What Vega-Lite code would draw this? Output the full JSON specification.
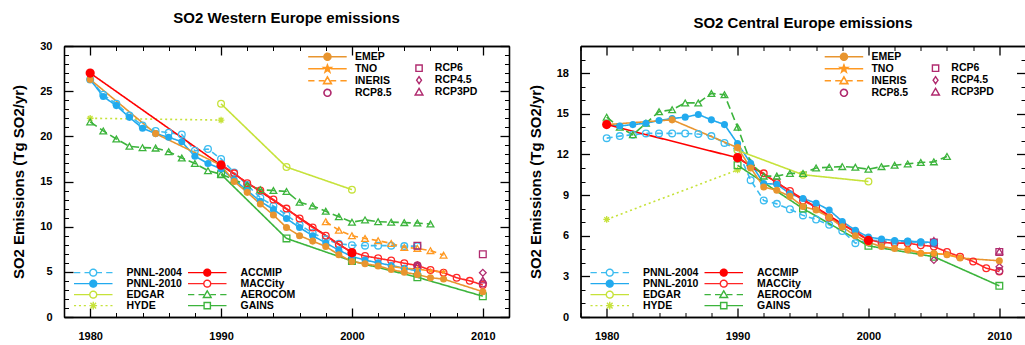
{
"$schema": "https://vega.github.io/schema/vega-lite/v6.json",
"padding": {"left": 11, "top": 11, "right": 0, "bottom": 5},
"datasets": {
"W": [
{"source":"PNNL-2004","year":1980,"value":26.3},{"source":"PNNL-2004","year":1981,"value":24.6},{"source":"PNNL-2004","year":1982,"value":23.6},{"source":"PNNL-2004","year":1983,"value":22.3},{"source":"PNNL-2004","year":1984,"value":21.2},{"source":"PNNL-2004","year":1985,"value":20.6},{"source":"PNNL-2004","year":1986,"value":20.4},{"source":"PNNL-2004","year":1987,"value":20.2},{"source":"PNNL-2004","year":1988,"value":18.4},{"source":"PNNL-2004","year":1989,"value":18.6},{"source":"PNNL-2004","year":1990,"value":17.5},{"source":"PNNL-2004","year":1991,"value":16.0},{"source":"PNNL-2004","year":1992,"value":14.6},{"source":"PNNL-2004","year":1993,"value":13.2},{"source":"PNNL-2004","year":1994,"value":12.3},{"source":"PNNL-2004","year":1995,"value":11.3},{"source":"PNNL-2004","year":1996,"value":10.2},{"source":"PNNL-2004","year":1997,"value":9.3},{"source":"PNNL-2004","year":1998,"value":8.6},{"source":"PNNL-2004","year":1999,"value":8.1},{"source":"PNNL-2004","year":2000,"value":7.95},{"source":"PNNL-2004","year":2001,"value":7.9},{"source":"PNNL-2004","year":2002,"value":7.9},{"source":"PNNL-2004","year":2003,"value":7.9},{"source":"PNNL-2004","year":2004,"value":7.85},{"source":"PNNL-2004","year":2005,"value":7.85},
{"source":"PNNL-2010","year":1980,"value":26.3},{"source":"PNNL-2010","year":1981,"value":24.4},{"source":"PNNL-2010","year":1982,"value":23.4},{"source":"PNNL-2010","year":1983,"value":22.1},{"source":"PNNL-2010","year":1984,"value":20.9},{"source":"PNNL-2010","year":1985,"value":20.3},{"source":"PNNL-2010","year":1986,"value":19.9},{"source":"PNNL-2010","year":1987,"value":19.4},{"source":"PNNL-2010","year":1988,"value":17.8},{"source":"PNNL-2010","year":1989,"value":17.0},{"source":"PNNL-2010","year":1990,"value":16.4},{"source":"PNNL-2010","year":1991,"value":15.2},{"source":"PNNL-2010","year":1992,"value":14.0},{"source":"PNNL-2010","year":1993,"value":12.8},{"source":"PNNL-2010","year":1994,"value":11.9},{"source":"PNNL-2010","year":1995,"value":10.9},{"source":"PNNL-2010","year":1996,"value":9.9},{"source":"PNNL-2010","year":1997,"value":9.0},{"source":"PNNL-2010","year":1998,"value":8.2},{"source":"PNNL-2010","year":1999,"value":7.4},{"source":"PNNL-2010","year":2000,"value":6.7},{"source":"PNNL-2010","year":2001,"value":6.3},{"source":"PNNL-2010","year":2002,"value":6.0},{"source":"PNNL-2010","year":2003,"value":5.7},{"source":"PNNL-2010","year":2004,"value":5.4},{"source":"PNNL-2010","year":2005,"value":5.1},
{"source":"EDGAR","year":1990,"value":23.6},{"source":"EDGAR","year":1995,"value":16.6},{"source":"EDGAR","year":2000,"value":14.1},
{"source":"HYDE","year":1980,"value":22.0},{"source":"HYDE","year":1990,"value":21.8},
{"source":"ACCMIP","year":1980,"value":27.0},{"source":"ACCMIP","year":1990,"value":16.8},{"source":"ACCMIP","year":2000,"value":7.1},
{"source":"MACCity","year":1990,"value":16.9},{"source":"MACCity","year":1991,"value":15.9},{"source":"MACCity","year":1992,"value":14.8},{"source":"MACCity","year":1993,"value":14.0},{"source":"MACCity","year":1994,"value":13.0},{"source":"MACCity","year":1995,"value":12.0},{"source":"MACCity","year":1996,"value":10.9},{"source":"MACCity","year":1997,"value":9.9},{"source":"MACCity","year":1998,"value":9.0},{"source":"MACCity","year":1999,"value":8.0},{"source":"MACCity","year":2000,"value":7.2},{"source":"MACCity","year":2001,"value":6.75},{"source":"MACCity","year":2002,"value":6.5},{"source":"MACCity","year":2003,"value":6.25},{"source":"MACCity","year":2004,"value":5.95},{"source":"MACCity","year":2005,"value":5.7},{"source":"MACCity","year":2006,"value":5.2},{"source":"MACCity","year":2007,"value":4.9},{"source":"MACCity","year":2008,"value":4.35},{"source":"MACCity","year":2009,"value":4.0},{"source":"MACCity","year":2010,"value":3.55},
{"source":"AEROCOM","year":1980,"value":21.6},{"source":"AEROCOM","year":1981,"value":20.6},{"source":"AEROCOM","year":1982,"value":19.7},{"source":"AEROCOM","year":1983,"value":18.9},{"source":"AEROCOM","year":1984,"value":18.75},{"source":"AEROCOM","year":1985,"value":18.7},{"source":"AEROCOM","year":1986,"value":18.3},{"source":"AEROCOM","year":1987,"value":17.6},{"source":"AEROCOM","year":1988,"value":17.0},{"source":"AEROCOM","year":1989,"value":16.2},{"source":"AEROCOM","year":1990,"value":15.8},{"source":"AEROCOM","year":1991,"value":15.2},{"source":"AEROCOM","year":1992,"value":14.6},{"source":"AEROCOM","year":1993,"value":14.1},{"source":"AEROCOM","year":1994,"value":14.0},{"source":"AEROCOM","year":1995,"value":13.9},{"source":"AEROCOM","year":1996,"value":12.7},{"source":"AEROCOM","year":1997,"value":12.3},{"source":"AEROCOM","year":1998,"value":11.7},{"source":"AEROCOM","year":1999,"value":11.1},{"source":"AEROCOM","year":2000,"value":10.5},{"source":"AEROCOM","year":2001,"value":10.75},{"source":"AEROCOM","year":2002,"value":10.55},{"source":"AEROCOM","year":2003,"value":10.5},{"source":"AEROCOM","year":2004,"value":10.45},{"source":"AEROCOM","year":2005,"value":10.4},{"source":"AEROCOM","year":2006,"value":10.3},
{"source":"GAINS","year":1990,"value":15.8},{"source":"GAINS","year":1995,"value":8.7},{"source":"GAINS","year":2000,"value":6.2},{"source":"GAINS","year":2005,"value":4.4},{"source":"GAINS","year":2010,"value":2.3},
{"source":"EMEP","year":1980,"value":26.3},{"source":"EMEP","year":1985,"value":20.3},{"source":"EMEP","year":1990,"value":16.8},{"source":"EMEP","year":1991,"value":15.0},{"source":"EMEP","year":1992,"value":13.8},{"source":"EMEP","year":1993,"value":12.5},{"source":"EMEP","year":1994,"value":11.3},{"source":"EMEP","year":1995,"value":9.9},{"source":"EMEP","year":1996,"value":9.0},{"source":"EMEP","year":1997,"value":8.4},{"source":"EMEP","year":1998,"value":7.8},{"source":"EMEP","year":1999,"value":6.9},{"source":"EMEP","year":2000,"value":6.15},{"source":"EMEP","year":2001,"value":5.9},{"source":"EMEP","year":2002,"value":5.65},{"source":"EMEP","year":2003,"value":5.25},{"source":"EMEP","year":2004,"value":4.95},{"source":"EMEP","year":2005,"value":4.7},{"source":"EMEP","year":2006,"value":4.35},{"source":"EMEP","year":2007,"value":4.2},{"source":"EMEP","year":2010,"value":2.8},
{"source":"TNO","year":2003,"value":5.6},{"source":"TNO","year":2004,"value":5.4},{"source":"TNO","year":2005,"value":5.3},{"source":"TNO","year":2006,"value":5.1},{"source":"TNO","year":2007,"value":5.0},
{"source":"INERIS","year":1998,"value":10.55},{"source":"INERIS","year":1999,"value":9.6},{"source":"INERIS","year":2000,"value":9.0},{"source":"INERIS","year":2001,"value":8.7},{"source":"INERIS","year":2002,"value":8.45},{"source":"INERIS","year":2003,"value":8.15},{"source":"INERIS","year":2004,"value":7.7},{"source":"INERIS","year":2005,"value":7.6},{"source":"INERIS","year":2006,"value":7.35},{"source":"INERIS","year":2007,"value":6.85},
{"source":"RCP8.5","year":2005,"value":5.7},{"source":"RCP8.5","year":2010,"value":3.7},
{"source":"RCP6","year":2005,"value":7.9},{"source":"RCP6","year":2010,"value":6.95},
{"source":"RCP4.5","year":2005,"value":5.7},{"source":"RCP4.5","year":2010,"value":4.9},
{"source":"RCP3PD","year":2005,"value":5.7},{"source":"RCP3PD","year":2010,"value":4.1}
],
"C": [
{"source":"PNNL-2004","year":1980,"value":13.2},{"source":"PNNL-2004","year":1981,"value":13.35},{"source":"PNNL-2004","year":1982,"value":13.45},{"source":"PNNL-2004","year":1983,"value":13.55},{"source":"PNNL-2004","year":1984,"value":13.55},{"source":"PNNL-2004","year":1985,"value":13.55},{"source":"PNNL-2004","year":1986,"value":13.55},{"source":"PNNL-2004","year":1987,"value":13.5},{"source":"PNNL-2004","year":1988,"value":13.35},{"source":"PNNL-2004","year":1989,"value":12.85},{"source":"PNNL-2004","year":1990,"value":12.3},{"source":"PNNL-2004","year":1991,"value":10.1},{"source":"PNNL-2004","year":1992,"value":8.6},{"source":"PNNL-2004","year":1993,"value":8.35},{"source":"PNNL-2004","year":1994,"value":7.95},{"source":"PNNL-2004","year":1995,"value":7.5},{"source":"PNNL-2004","year":1996,"value":7.2},{"source":"PNNL-2004","year":1997,"value":6.8},{"source":"PNNL-2004","year":1998,"value":6.35},{"source":"PNNL-2004","year":1999,"value":5.45},{"source":"PNNL-2004","year":2000,"value":5.7},{"source":"PNNL-2004","year":2001,"value":5.6},{"source":"PNNL-2004","year":2002,"value":5.55},{"source":"PNNL-2004","year":2003,"value":5.55},{"source":"PNNL-2004","year":2004,"value":5.5},{"source":"PNNL-2004","year":2005,"value":5.45},
{"source":"PNNL-2010","year":1980,"value":14.2},{"source":"PNNL-2010","year":1981,"value":14.1},{"source":"PNNL-2010","year":1982,"value":14.2},{"source":"PNNL-2010","year":1983,"value":14.3},{"source":"PNNL-2010","year":1984,"value":14.5},{"source":"PNNL-2010","year":1985,"value":14.65},{"source":"PNNL-2010","year":1986,"value":14.75},{"source":"PNNL-2010","year":1987,"value":14.95},{"source":"PNNL-2010","year":1988,"value":14.55},{"source":"PNNL-2010","year":1989,"value":14.2},{"source":"PNNL-2010","year":1990,"value":12.8},{"source":"PNNL-2010","year":1991,"value":11.35},{"source":"PNNL-2010","year":1992,"value":9.85},{"source":"PNNL-2010","year":1993,"value":9.8},{"source":"PNNL-2010","year":1994,"value":9.1},{"source":"PNNL-2010","year":1995,"value":8.75},{"source":"PNNL-2010","year":1996,"value":8.4},{"source":"PNNL-2010","year":1997,"value":7.9},{"source":"PNNL-2010","year":1998,"value":7.05},{"source":"PNNL-2010","year":1999,"value":6.4},{"source":"PNNL-2010","year":2000,"value":5.9},{"source":"PNNL-2010","year":2001,"value":5.75},{"source":"PNNL-2010","year":2002,"value":5.65},{"source":"PNNL-2010","year":2003,"value":5.6},{"source":"PNNL-2010","year":2004,"value":5.55},{"source":"PNNL-2010","year":2005,"value":5.5},
{"source":"EDGAR","year":1990,"value":12.3},{"source":"EDGAR","year":1995,"value":10.5},{"source":"EDGAR","year":2000,"value":10.0},
{"source":"HYDE","year":1980,"value":7.2},{"source":"HYDE","year":1990,"value":10.85},
{"source":"ACCMIP","year":1980,"value":14.2},{"source":"ACCMIP","year":1990,"value":11.75},{"source":"ACCMIP","year":2000,"value":5.65},
{"source":"MACCity","year":1990,"value":11.8},{"source":"MACCity","year":1991,"value":11.15},{"source":"MACCity","year":1992,"value":10.6},{"source":"MACCity","year":1993,"value":9.9},{"source":"MACCity","year":1994,"value":9.3},{"source":"MACCity","year":1995,"value":8.6},{"source":"MACCity","year":1996,"value":8.1},{"source":"MACCity","year":1997,"value":7.35},{"source":"MACCity","year":1998,"value":6.8},{"source":"MACCity","year":1999,"value":6.3},{"source":"MACCity","year":2000,"value":5.7},{"source":"MACCity","year":2001,"value":5.5},{"source":"MACCity","year":2002,"value":5.45},{"source":"MACCity","year":2003,"value":5.45},{"source":"MACCity","year":2004,"value":5.3},{"source":"MACCity","year":2005,"value":5.2},{"source":"MACCity","year":2006,"value":4.8},{"source":"MACCity","year":2007,"value":4.45},{"source":"MACCity","year":2008,"value":4.1},{"source":"MACCity","year":2009,"value":3.6},{"source":"MACCity","year":2010,"value":3.35},
{"source":"AEROCOM","year":1980,"value":14.75},{"source":"AEROCOM","year":1981,"value":14.0},{"source":"AEROCOM","year":1982,"value":13.45},{"source":"AEROCOM","year":1983,"value":14.3},{"source":"AEROCOM","year":1984,"value":15.15},{"source":"AEROCOM","year":1985,"value":15.3},{"source":"AEROCOM","year":1986,"value":15.8},{"source":"AEROCOM","year":1987,"value":15.8},{"source":"AEROCOM","year":1988,"value":16.5},{"source":"AEROCOM","year":1989,"value":16.4},{"source":"AEROCOM","year":1990,"value":14.0},{"source":"AEROCOM","year":1991,"value":11.4},{"source":"AEROCOM","year":1992,"value":10.4},{"source":"AEROCOM","year":1993,"value":10.4},{"source":"AEROCOM","year":1994,"value":10.6},{"source":"AEROCOM","year":1995,"value":10.6},{"source":"AEROCOM","year":1996,"value":11.0},{"source":"AEROCOM","year":1997,"value":11.05},{"source":"AEROCOM","year":1998,"value":11.1},{"source":"AEROCOM","year":1999,"value":11.05},{"source":"AEROCOM","year":2000,"value":10.9},{"source":"AEROCOM","year":2001,"value":11.1},{"source":"AEROCOM","year":2002,"value":11.2},{"source":"AEROCOM","year":2003,"value":11.3},{"source":"AEROCOM","year":2004,"value":11.4},{"source":"AEROCOM","year":2005,"value":11.45},{"source":"AEROCOM","year":2006,"value":11.85},
{"source":"GAINS","year":1990,"value":11.2},{"source":"GAINS","year":1995,"value":8.0},{"source":"GAINS","year":2000,"value":5.25},{"source":"GAINS","year":2005,"value":4.45},{"source":"GAINS","year":2010,"value":2.3},
{"source":"EMEP","year":1980,"value":14.2},{"source":"EMEP","year":1985,"value":14.55},{"source":"EMEP","year":1990,"value":12.5},{"source":"EMEP","year":1991,"value":11.0},{"source":"EMEP","year":1992,"value":9.6},{"source":"EMEP","year":1993,"value":9.35},{"source":"EMEP","year":1994,"value":8.9},{"source":"EMEP","year":1995,"value":8.15},{"source":"EMEP","year":1996,"value":7.9},{"source":"EMEP","year":1997,"value":7.35},{"source":"EMEP","year":1998,"value":6.65},{"source":"EMEP","year":1999,"value":6.0},{"source":"EMEP","year":2000,"value":5.5},{"source":"EMEP","year":2001,"value":5.2},{"source":"EMEP","year":2002,"value":5.05},{"source":"EMEP","year":2003,"value":4.95},{"source":"EMEP","year":2004,"value":4.7},{"source":"EMEP","year":2005,"value":4.7},{"source":"EMEP","year":2006,"value":4.6},{"source":"EMEP","year":2007,"value":4.35},{"source":"EMEP","year":2010,"value":4.15},
{"source":"TNO","year":2003,"value":5.0},{"source":"TNO","year":2004,"value":4.75},{"source":"TNO","year":2005,"value":4.7},{"source":"TNO","year":2006,"value":4.6},{"source":"TNO","year":2007,"value":4.4},
{"source":"RCP8.5","year":2005,"value":5.5},{"source":"RCP8.5","year":2010,"value":3.4},
{"source":"RCP6","year":2005,"value":5.5},{"source":"RCP6","year":2010,"value":4.8},
{"source":"RCP4.5","year":2005,"value":4.2},{"source":"RCP4.5","year":2010,"value":3.7},
{"source":"RCP3PD","year":2005,"value":5.65},{"source":"RCP3PD","year":2010,"value":4.85}
]
},
"hconcat": [
{
"width": 445, "height": 271,
"data": {"name": "W"},
"title": {"text": "SO2 Western Europe emissions", "anchor": "middle", "offset": 14},
"resolve": {"axis": {"x": "independent", "y": "independent"}},
"layer": [
{
"transform": [{"filter": "indexof(['RCP8.5','RCP6','RCP4.5','RCP3PD'], datum.source) < 0"}],
"mark": {"type": "line"},
"encoding": {
"x": {"field": "year", "type": "quantitative", "scale": {"domain": [1978, 2012], "nice": false, "zero": false}, "axis": {"orient": "bottom", "values": [1980, 1990, 2000, 2010], "format": "d", "tickSize": -9, "labelPadding": 22, "title": null, "domainWidth": 1.3, "tickWidth": 1.3}},
"y": {"field": "value", "type": "quantitative", "scale": {"domain": [0, 30], "nice": false}, "axis": {"orient": "left", "values": [0, 5, 10, 15, 20, 25, 30], "tickSize": -9, "labelPadding": 21, "title": "SO2 Emissions (Tg SO2/yr)", "titlePadding": 13, "domainWidth": 1.3, "tickWidth": 1.3}},
"color": {"field": "source", "type": "nominal",
"scale": {"domain": ["PNNL-2004","PNNL-2010","EDGAR","HYDE","ACCMIP","MACCity","AEROCOM","GAINS","EMEP","TNO","INERIS","RCP8.5","RCP6","RCP4.5","RCP3PD"], "range": ["#3cbcf0","#22aaee","#c6e23a","#c6e23a","#ff0000","#ff2626","#3cb43c","#3cb43c","#e8952f","#ff9922","#ff9922","#b02a6e","#b02a6e","#b02a6e","#b02a6e"]},
"legend": {"orient": "none", "legendX": 8.25, "legendY": 221.15, "title": null, "direction": "vertical", "columns": 2, "columnPadding": 4, "rowPadding": 0, "clipHeight": 11.0, "values": ["PNNL-2004","PNNL-2010","EDGAR","HYDE","ACCMIP","MACCity","AEROCOM","GAINS"], "symbolSize": 49, "labelOffset": 43.75,
"encode": {"symbols": {"update": {
"shape": {"signal": "['M-1,0L0.8,0M2,0L3.5,0M5.5,0L7,0M8.2,0L10,0M5.5,0L5.42,0.38L5.21,0.71L4.88,0.92L4.5,1L4.12,0.92L3.79,0.71L3.58,0.38L3.5,0L3.58,-0.38L3.79,-0.71L4.12,-0.92L4.5,-1L4.88,-0.92L5.21,-0.71L5.42,-0.38Z','M-1,0L3.5,0M5.5,0L10,0M5.5,0L5.42,0.38L5.21,0.71L4.88,0.92L4.5,1L4.12,0.92L3.79,0.71L3.58,0.38L3.5,0L3.58,-0.38L3.79,-0.71L4.12,-0.92L4.5,-1L4.88,-0.92L5.21,-0.71L5.42,-0.38Z','M-1,0L3.5,0M5.5,0L10,0M5.5,0L5.42,0.38L5.21,0.71L4.88,0.92L4.5,1L4.12,0.92L3.79,0.71L3.58,0.38L3.5,0L3.58,-0.38L3.79,-0.71L4.12,-0.92L4.5,-1L4.88,-0.92L5.21,-0.71L5.42,-0.38Z','M-1,0L-0.4,0M0.4,0L1,0M1.8,0L2.4,0M6.6,0L7.2,0M8,0L8.6,0M9.4,0L10,0M3.4,0L5.6,0M4.5,-1.1L4.5,1.1M3.7,-0.8L5.3,0.8M3.7,0.8L5.3,-0.8','M-1,0L3.5,0M5.5,0L10,0M5.5,0L5.42,0.38L5.21,0.71L4.88,0.92L4.5,1L4.12,0.92L3.79,0.71L3.58,0.38L3.5,0L3.58,-0.38L3.79,-0.71L4.12,-0.92L4.5,-1L4.88,-0.92L5.21,-0.71L5.42,-0.38Z','M-1,0L3.5,0M5.5,0L10,0M5.5,0L5.42,0.38L5.21,0.71L4.88,0.92L4.5,1L4.12,0.92L3.79,0.71L3.58,0.38L3.5,0L3.58,-0.38L3.79,-0.71L4.12,-0.92L4.5,-1L4.88,-0.92L5.21,-0.71L5.42,-0.38Z','M-1,0L0.8,0M2,0L3.6,0M5.4,0L7,0M8.2,0L10,0M4.5,-1.1L5.6,0.8L3.4,0.8Z','M-1,0L3.6,0M5.4,0L10,0M3.6,-0.9L5.4,-0.9L5.4,0.9L3.6,0.9Z'][indexof(['PNNL-2004','PNNL-2010','EDGAR','HYDE','ACCMIP','MACCity','AEROCOM','GAINS'], datum.value)]"},
"stroke": {"signal": "['#3cbcf0','#22aaee','#c6e23a','#c6e23a','#ff0000','#ff2626','#3cb43c','#3cb43c'][indexof(['PNNL-2004','PNNL-2010','EDGAR','HYDE','ACCMIP','MACCity','AEROCOM','GAINS'], datum.value)]"},
"fill": {"signal": "['#3cbcf0','#22aaee','#c6e23a','#c6e23a','#ff0000','#ff2626','#3cb43c','#3cb43c'][indexof(['PNNL-2004','PNNL-2010','EDGAR','HYDE','ACCMIP','MACCity','AEROCOM','GAINS'], datum.value)]"},
"fillOpacity": {"signal": "datum.value === 'PNNL-2010' || datum.value === 'ACCMIP' ? 1 : 0"},
"strokeDash": {"value": [1, 0]}, "opacity": {"value": 1}, "size": {"value": 49}, "strokeWidth": {"value": 1.4}
}}}}},
"strokeWidth": {"field": "source", "type": "nominal",
"scale": {"domain": ["EDGAR","HYDE","ACCMIP","MACCity","AEROCOM","GAINS","EMEP","TNO","INERIS","RCP8.5","RCP6","RCP4.5","RCP3PD","PNNL-2004","PNNL-2010"], "range": [1.6, 1.6]},
"legend": {"orient": "none", "legendX": 242.45, "legendY": 5.2, "title": null, "direction": "vertical", "rowPadding": 0, "clipHeight": 11.2, "values": ["EMEP","TNO","INERIS","RCP8.5"], "symbolSize": 49, "labelOffset": 37.95,
"encode": {"symbols": {"update": {
"shape": {"signal": "datum.value === 'EMEP' ? 'M-1,0L3.5,0M5.5,0L10,0M5.5,0L5.42,0.38L5.21,0.71L4.88,0.92L4.5,1L4.12,0.92L3.79,0.71L3.58,0.38L3.5,0L3.58,-0.38L3.79,-0.71L4.12,-0.92L4.5,-1L4.88,-0.92L5.21,-0.71L5.42,-0.38Z' : datum.value === 'TNO' ? 'M-1,0L3.5,0M5.5,0L10,0M4.5,-1.1L4.76,-0.36L5.55,-0.34L4.92,0.14L5.15,0.89L4.5,0.44L3.85,0.89L4.08,0.14L3.45,-0.34L4.24,-0.36Z' : datum.value === 'INERIS' ? 'M-1,0L0.8,0M2,0L3.6,0M5.4,0L7,0M8.2,0L10,0M4.5,-1.1L5.6,0.8L3.4,0.8Z' : 'M5.5,0L5.42,0.38L5.21,0.71L4.88,0.92L4.5,1L4.12,0.92L3.79,0.71L3.58,0.38L3.5,0L3.58,-0.38L3.79,-0.71L4.12,-0.92L4.5,-1L4.88,-0.92L5.21,-0.71L5.42,-0.38Z'"},
"stroke": {"signal": "datum.value === 'RCP8.5' ? '#b02a6e' : datum.value === 'EMEP' ? '#e8952f' : '#ff9922'"},
"fill": {"signal": "datum.value === 'RCP8.5' ? '#b02a6e' : datum.value === 'EMEP' ? '#e8952f' : '#ff9922'"},
"fillOpacity": {"signal": "datum.value === 'EMEP' || datum.value === 'TNO' ? 1 : 0"},
"strokeDash": {"value": [1, 0]}, "opacity": {"value": 1}, "size": {"value": 49}, "strokeWidth": {"value": 1.4}
}}}}},
"strokeDash": {"field": "source", "type": "nominal",
"scale": {"domain": ["PNNL-2010","EDGAR","HYDE","ACCMIP","MACCity","AEROCOM","GAINS","EMEP","TNO","INERIS","RCP8.5","RCP6","RCP4.5","RCP3PD","PNNL-2004"], "range": [[1,0],[1,0],[2,3],[1,0],[1,0],[8,4],[1,0],[1,0],[1,0],[6,4],[1,0],[1,0],[1,0],[1,0],[6,4]]},
"legend": {"orient": "none", "legendX": 349.8, "legendY": 16.6, "title": null, "direction": "vertical", "rowPadding": 0, "clipHeight": 11.2, "values": ["RCP6","RCP4.5","RCP3PD"], "symbolSize": 49, "labelOffset": 10.5,
"encode": {"symbols": {"update": {
"shape": {"signal": "datum.value === 'RCP6' ? 'M-0.9,-0.9L0.9,-0.9L0.9,0.9L-0.9,0.9Z' : datum.value === 'RCP4.5' ? 'M0,-1L0.7,0L0,1L-0.7,0Z' : 'M0,-1.1L1.1,0.8L-1.1,0.8Z'"},
"stroke": {"value": "#b02a6e"}, "fill": {"value": "#b02a6e"}, "fillOpacity": {"value": 0},
"strokeDash": {"value": [1, 0]}, "opacity": {"value": 1}, "size": {"value": 49}, "strokeWidth": {"value": 1.4}
}}}}}
}
},
{
"transform": [{"filter": "indexof(['PNNL-2010','ACCMIP','EMEP','TNO'], datum.source) < 0"}],
"mark": {"type": "point", "filled": false, "size": 45, "strokeWidth": 1.3, "opacity": 1},
"encoding": {
"x": {"field": "year", "type": "quantitative", "scale": {"domain": [1978, 2012], "nice": false, "zero": false}, "axis": {"orient": "top", "values": [1980, 1990, 2000, 2010], "labels": false, "tickSize": -9, "title": null, "domainWidth": 1.3, "tickWidth": 1.3}},
"y": {"field": "value", "type": "quantitative", "scale": {"domain": [0, 30], "nice": false}, "axis": {"orient": "right", "values": [0, 5, 10, 15, 20, 25, 30], "labels": false, "tickSize": -9, "title": null, "domainWidth": 1.3, "tickWidth": 1.3}},
"color": {"field": "source", "type": "nominal", "scale": {"domain": ["PNNL-2004","PNNL-2010","EDGAR","HYDE","ACCMIP","MACCity","AEROCOM","GAINS","EMEP","TNO","INERIS","RCP8.5","RCP6","RCP4.5","RCP3PD"], "range": ["#3cbcf0","#22aaee","#c6e23a","#c6e23a","#ff0000","#ff2626","#3cb43c","#3cb43c","#e8952f","#ff9922","#ff9922","#b02a6e","#b02a6e","#b02a6e","#b02a6e"]}},
"shape": {"field": "source", "type": "nominal", "legend": null,
"scale": {"domain": ["RCP3PD","RCP4.5","RCP6","RCP8.5","INERIS","TNO","EMEP","GAINS","AEROCOM","MACCity","ACCMIP","HYDE","EDGAR","PNNL-2010","PNNL-2004"], "range": ["triangle-up","diamond","square","circle","triangle-up","M0,-1L0.235,-0.324L0.951,-0.309L0.38,0.124L0.588,0.809L0,0.4L-0.588,0.809L-0.38,0.124L-0.951,-0.309L-0.235,-0.324Z","circle","square","triangle-up","circle","circle","M-1,0L1,0M0,-1L0,1M-0.7,-0.7L0.7,0.7M-0.7,0.7L0.7,-0.7","circle","circle","circle"]}}
}
},
{
"transform": [{"filter": "indexof(['PNNL-2010','EMEP','TNO'], datum.source) >= 0"}],
"mark": {"type": "point", "filled": true, "size": 50, "opacity": 1},
"encoding": {
"x": {"field": "year", "type": "quantitative", "scale": {"domain": [1978, 2012], "nice": false, "zero": false}, "axis": {"orient": "bottom", "values": [1978,1982,1984,1986,1988,1992,1994,1996,1998,2002,2004,2006,2008,2012], "labels": false, "tickSize": -4.5, "title": null, "domainWidth": 1.3}},
"y": {"field": "value", "type": "quantitative", "scale": {"domain": [0, 30], "nice": false}, "axis": {"orient": "left", "values": [1,2,3,4,6,7,8,9,11,12,13,14,16,17,18,19,21,22,23,24,26,27,28,29], "labels": false, "tickSize": -4.5, "title": null, "domainWidth": 1.3}},
"color": {"field": "source", "type": "nominal", "scale": {"domain": ["PNNL-2004","PNNL-2010","EDGAR","HYDE","ACCMIP","MACCity","AEROCOM","GAINS","EMEP","TNO","INERIS","RCP8.5","RCP6","RCP4.5","RCP3PD"], "range": ["#3cbcf0","#22aaee","#c6e23a","#c6e23a","#ff0000","#ff2626","#3cb43c","#3cb43c","#e8952f","#ff9922","#ff9922","#b02a6e","#b02a6e","#b02a6e","#b02a6e"]}},
"shape": {"field": "source", "type": "nominal", "legend": null, "scale": {"domain": ["RCP3PD","RCP4.5","RCP6","RCP8.5","INERIS","TNO","EMEP","GAINS","AEROCOM","MACCity","ACCMIP","HYDE","EDGAR","PNNL-2010","PNNL-2004"], "range": ["triangle-up","diamond","square","circle","triangle-up","M0,-1L0.235,-0.324L0.951,-0.309L0.38,0.124L0.588,0.809L0,0.4L-0.588,0.809L-0.38,0.124L-0.951,-0.309L-0.235,-0.324Z","circle","square","triangle-up","circle","circle","M-1,0L1,0M0,-1L0,1M-0.7,-0.7L0.7,0.7M-0.7,0.7L0.7,-0.7","circle","circle","circle"]}}
}
},
{
"transform": [{"filter": "datum.source === 'ACCMIP'"}],
"mark": {"type": "point", "filled": true, "shape": "circle", "size": 85, "opacity": 1},
"encoding": {
"x": {"field": "year", "type": "quantitative", "scale": {"domain": [1978, 2012], "nice": false, "zero": false}, "axis": {"orient": "top", "values": [1978,1982,1984,1986,1988,1992,1994,1996,1998,2002,2004,2006,2008,2012], "labels": false, "tickSize": -4.5, "title": null, "domainWidth": 1.3}},
"y": {"field": "value", "type": "quantitative", "scale": {"domain": [0, 30], "nice": false}, "axis": {"orient": "right", "values": [1,2,3,4,6,7,8,9,11,12,13,14,16,17,18,19,21,22,23,24,26,27,28,29], "labels": false, "tickSize": -4.5, "title": null, "domainWidth": 1.3}},
"color": {"field": "source", "type": "nominal", "scale": {"domain": ["PNNL-2004","PNNL-2010","EDGAR","HYDE","ACCMIP","MACCity","AEROCOM","GAINS","EMEP","TNO","INERIS","RCP8.5","RCP6","RCP4.5","RCP3PD"], "range": ["#3cbcf0","#22aaee","#c6e23a","#c6e23a","#ff0000","#ff2626","#3cb43c","#3cb43c","#e8952f","#ff9922","#ff9922","#b02a6e","#b02a6e","#b02a6e","#b02a6e"]}}
}
}
]
},
{
"width": 445, "height": 271,
"data": {"name": "C"},
"title": {"text": "SO2 Central Europe emissions", "anchor": "middle", "offset": 14},
"resolve": {"axis": {"x": "independent", "y": "independent"}},
"layer": [
{
"transform": [{"filter": "indexof(['RCP8.5','RCP6','RCP4.5','RCP3PD'], datum.source) < 0"}],
"mark": {"type": "line"},
"encoding": {
"x": {"field": "year", "type": "quantitative", "scale": {"domain": [1978, 2012], "nice": false, "zero": false}, "axis": {"orient": "bottom", "values": [1980, 1990, 2000, 2010], "format": "d", "tickSize": -9, "labelPadding": 22, "title": null, "domainWidth": 1.3, "tickWidth": 1.3}},
"y": {"field": "value", "type": "quantitative", "scale": {"domain": [0, 20], "nice": false}, "axis": {"orient": "left", "values": [0, 3, 6, 9, 12, 15, 18], "tickSize": -9, "labelPadding": 21, "title": "SO2 Emissions (Tg SO2/yr)", "titlePadding": 13, "domainWidth": 1.3, "tickWidth": 1.3}},
"color": {"field": "source", "type": "nominal",
"scale": {"domain": ["PNNL-2004","PNNL-2010","EDGAR","HYDE","ACCMIP","MACCity","AEROCOM","GAINS","EMEP","TNO","INERIS","RCP8.5","RCP6","RCP4.5","RCP3PD"], "range": ["#3cbcf0","#22aaee","#c6e23a","#c6e23a","#ff0000","#ff2626","#3cb43c","#3cb43c","#e8952f","#ff9922","#ff9922","#b02a6e","#b02a6e","#b02a6e","#b02a6e"]},
"legend": {"orient": "none", "legendX": 8.25, "legendY": 221.15, "title": null, "direction": "vertical", "columns": 2, "columnPadding": 4, "rowPadding": 0, "clipHeight": 11.0, "values": ["PNNL-2004","PNNL-2010","EDGAR","HYDE","ACCMIP","MACCity","AEROCOM","GAINS"], "symbolSize": 49, "labelOffset": 43.75,
"encode": {"symbols": {"update": {
"shape": {"signal": "['M-1,0L0.8,0M2,0L3.5,0M5.5,0L7,0M8.2,0L10,0M5.5,0L5.42,0.38L5.21,0.71L4.88,0.92L4.5,1L4.12,0.92L3.79,0.71L3.58,0.38L3.5,0L3.58,-0.38L3.79,-0.71L4.12,-0.92L4.5,-1L4.88,-0.92L5.21,-0.71L5.42,-0.38Z','M-1,0L3.5,0M5.5,0L10,0M5.5,0L5.42,0.38L5.21,0.71L4.88,0.92L4.5,1L4.12,0.92L3.79,0.71L3.58,0.38L3.5,0L3.58,-0.38L3.79,-0.71L4.12,-0.92L4.5,-1L4.88,-0.92L5.21,-0.71L5.42,-0.38Z','M-1,0L3.5,0M5.5,0L10,0M5.5,0L5.42,0.38L5.21,0.71L4.88,0.92L4.5,1L4.12,0.92L3.79,0.71L3.58,0.38L3.5,0L3.58,-0.38L3.79,-0.71L4.12,-0.92L4.5,-1L4.88,-0.92L5.21,-0.71L5.42,-0.38Z','M-1,0L-0.4,0M0.4,0L1,0M1.8,0L2.4,0M6.6,0L7.2,0M8,0L8.6,0M9.4,0L10,0M3.4,0L5.6,0M4.5,-1.1L4.5,1.1M3.7,-0.8L5.3,0.8M3.7,0.8L5.3,-0.8','M-1,0L3.5,0M5.5,0L10,0M5.5,0L5.42,0.38L5.21,0.71L4.88,0.92L4.5,1L4.12,0.92L3.79,0.71L3.58,0.38L3.5,0L3.58,-0.38L3.79,-0.71L4.12,-0.92L4.5,-1L4.88,-0.92L5.21,-0.71L5.42,-0.38Z','M-1,0L3.5,0M5.5,0L10,0M5.5,0L5.42,0.38L5.21,0.71L4.88,0.92L4.5,1L4.12,0.92L3.79,0.71L3.58,0.38L3.5,0L3.58,-0.38L3.79,-0.71L4.12,-0.92L4.5,-1L4.88,-0.92L5.21,-0.71L5.42,-0.38Z','M-1,0L0.8,0M2,0L3.6,0M5.4,0L7,0M8.2,0L10,0M4.5,-1.1L5.6,0.8L3.4,0.8Z','M-1,0L3.6,0M5.4,0L10,0M3.6,-0.9L5.4,-0.9L5.4,0.9L3.6,0.9Z'][indexof(['PNNL-2004','PNNL-2010','EDGAR','HYDE','ACCMIP','MACCity','AEROCOM','GAINS'], datum.value)]"},
"stroke": {"signal": "['#3cbcf0','#22aaee','#c6e23a','#c6e23a','#ff0000','#ff2626','#3cb43c','#3cb43c'][indexof(['PNNL-2004','PNNL-2010','EDGAR','HYDE','ACCMIP','MACCity','AEROCOM','GAINS'], datum.value)]"},
"fill": {"signal": "['#3cbcf0','#22aaee','#c6e23a','#c6e23a','#ff0000','#ff2626','#3cb43c','#3cb43c'][indexof(['PNNL-2004','PNNL-2010','EDGAR','HYDE','ACCMIP','MACCity','AEROCOM','GAINS'], datum.value)]"},
"fillOpacity": {"signal": "datum.value === 'PNNL-2010' || datum.value === 'ACCMIP' ? 1 : 0"},
"strokeDash": {"value": [1, 0]}, "opacity": {"value": 1}, "size": {"value": 49}, "strokeWidth": {"value": 1.4}
}}}}},
"strokeWidth": {"field": "source", "type": "nominal",
"scale": {"domain": ["EDGAR","HYDE","ACCMIP","MACCity","AEROCOM","GAINS","EMEP","TNO","INERIS","RCP8.5","RCP6","RCP4.5","RCP3PD","PNNL-2004","PNNL-2010"], "range": [1.6, 1.6]},
"legend": {"orient": "none", "legendX": 242.45, "legendY": 5.2, "title": null, "direction": "vertical", "rowPadding": 0, "clipHeight": 11.2, "values": ["EMEP","TNO","INERIS","RCP8.5"], "symbolSize": 49, "labelOffset": 37.95,
"encode": {"symbols": {"update": {
"shape": {"signal": "datum.value === 'EMEP' ? 'M-1,0L3.5,0M5.5,0L10,0M5.5,0L5.42,0.38L5.21,0.71L4.88,0.92L4.5,1L4.12,0.92L3.79,0.71L3.58,0.38L3.5,0L3.58,-0.38L3.79,-0.71L4.12,-0.92L4.5,-1L4.88,-0.92L5.21,-0.71L5.42,-0.38Z' : datum.value === 'TNO' ? 'M-1,0L3.5,0M5.5,0L10,0M4.5,-1.1L4.76,-0.36L5.55,-0.34L4.92,0.14L5.15,0.89L4.5,0.44L3.85,0.89L4.08,0.14L3.45,-0.34L4.24,-0.36Z' : datum.value === 'INERIS' ? 'M-1,0L0.8,0M2,0L3.6,0M5.4,0L7,0M8.2,0L10,0M4.5,-1.1L5.6,0.8L3.4,0.8Z' : 'M5.5,0L5.42,0.38L5.21,0.71L4.88,0.92L4.5,1L4.12,0.92L3.79,0.71L3.58,0.38L3.5,0L3.58,-0.38L3.79,-0.71L4.12,-0.92L4.5,-1L4.88,-0.92L5.21,-0.71L5.42,-0.38Z'"},
"stroke": {"signal": "datum.value === 'RCP8.5' ? '#b02a6e' : datum.value === 'EMEP' ? '#e8952f' : '#ff9922'"},
"fill": {"signal": "datum.value === 'RCP8.5' ? '#b02a6e' : datum.value === 'EMEP' ? '#e8952f' : '#ff9922'"},
"fillOpacity": {"signal": "datum.value === 'EMEP' || datum.value === 'TNO' ? 1 : 0"},
"strokeDash": {"value": [1, 0]}, "opacity": {"value": 1}, "size": {"value": 49}, "strokeWidth": {"value": 1.4}
}}}}},
"strokeDash": {"field": "source", "type": "nominal",
"scale": {"domain": ["PNNL-2010","EDGAR","HYDE","ACCMIP","MACCity","AEROCOM","GAINS","EMEP","TNO","INERIS","RCP8.5","RCP6","RCP4.5","RCP3PD","PNNL-2004"], "range": [[1,0],[1,0],[2,3],[1,0],[1,0],[8,4],[1,0],[1,0],[1,0],[6,4],[1,0],[1,0],[1,0],[1,0],[6,4]]},
"legend": {"orient": "none", "legendX": 349.8, "legendY": 16.6, "title": null, "direction": "vertical", "rowPadding": 0, "clipHeight": 11.2, "values": ["RCP6","RCP4.5","RCP3PD"], "symbolSize": 49, "labelOffset": 10.5,
"encode": {"symbols": {"update": {
"shape": {"signal": "datum.value === 'RCP6' ? 'M-0.9,-0.9L0.9,-0.9L0.9,0.9L-0.9,0.9Z' : datum.value === 'RCP4.5' ? 'M0,-1L0.7,0L0,1L-0.7,0Z' : 'M0,-1.1L1.1,0.8L-1.1,0.8Z'"},
"stroke": {"value": "#b02a6e"}, "fill": {"value": "#b02a6e"}, "fillOpacity": {"value": 0},
"strokeDash": {"value": [1, 0]}, "opacity": {"value": 1}, "size": {"value": 49}, "strokeWidth": {"value": 1.4}
}}}}}
}
},
{
"transform": [{"filter": "indexof(['PNNL-2010','ACCMIP','EMEP','TNO'], datum.source) < 0"}],
"mark": {"type": "point", "filled": false, "size": 45, "strokeWidth": 1.3, "opacity": 1},
"encoding": {
"x": {"field": "year", "type": "quantitative", "scale": {"domain": [1978, 2012], "nice": false, "zero": false}, "axis": {"orient": "top", "values": [1980, 1990, 2000, 2010], "labels": false, "tickSize": -9, "title": null, "domainWidth": 1.3, "tickWidth": 1.3}},
"y": {"field": "value", "type": "quantitative", "scale": {"domain": [0, 20], "nice": false}, "axis": {"orient": "right", "values": [0, 3, 6, 9, 12, 15, 18], "labels": false, "tickSize": -9, "title": null, "domainWidth": 1.3, "tickWidth": 1.3}},
"color": {"field": "source", "type": "nominal", "scale": {"domain": ["PNNL-2004","PNNL-2010","EDGAR","HYDE","ACCMIP","MACCity","AEROCOM","GAINS","EMEP","TNO","INERIS","RCP8.5","RCP6","RCP4.5","RCP3PD"], "range": ["#3cbcf0","#22aaee","#c6e23a","#c6e23a","#ff0000","#ff2626","#3cb43c","#3cb43c","#e8952f","#ff9922","#ff9922","#b02a6e","#b02a6e","#b02a6e","#b02a6e"]}},
"shape": {"field": "source", "type": "nominal", "legend": null,
"scale": {"domain": ["RCP3PD","RCP4.5","RCP6","RCP8.5","INERIS","TNO","EMEP","GAINS","AEROCOM","MACCity","ACCMIP","HYDE","EDGAR","PNNL-2010","PNNL-2004"], "range": ["triangle-up","diamond","square","circle","triangle-up","M0,-1L0.235,-0.324L0.951,-0.309L0.38,0.124L0.588,0.809L0,0.4L-0.588,0.809L-0.38,0.124L-0.951,-0.309L-0.235,-0.324Z","circle","square","triangle-up","circle","circle","M-1,0L1,0M0,-1L0,1M-0.7,-0.7L0.7,0.7M-0.7,0.7L0.7,-0.7","circle","circle","circle"]}}
}
},
{
"transform": [{"filter": "indexof(['PNNL-2010','EMEP','TNO'], datum.source) >= 0"}],
"mark": {"type": "point", "filled": true, "size": 50, "opacity": 1},
"encoding": {
"x": {"field": "year", "type": "quantitative", "scale": {"domain": [1978, 2012], "nice": false, "zero": false}, "axis": {"orient": "bottom", "values": [1978,1982,1984,1986,1988,1992,1994,1996,1998,2002,2004,2006,2008,2012], "labels": false, "tickSize": -4.5, "title": null, "domainWidth": 1.3}},
"y": {"field": "value", "type": "quantitative", "scale": {"domain": [0, 20], "nice": false}, "axis": {"orient": "left", "values": [1,2,4,5,7,8,10,11,13,14,16,17,19,20], "labels": false, "tickSize": -4.5, "title": null, "domainWidth": 1.3}},
"color": {"field": "source", "type": "nominal", "scale": {"domain": ["PNNL-2004","PNNL-2010","EDGAR","HYDE","ACCMIP","MACCity","AEROCOM","GAINS","EMEP","TNO","INERIS","RCP8.5","RCP6","RCP4.5","RCP3PD"], "range": ["#3cbcf0","#22aaee","#c6e23a","#c6e23a","#ff0000","#ff2626","#3cb43c","#3cb43c","#e8952f","#ff9922","#ff9922","#b02a6e","#b02a6e","#b02a6e","#b02a6e"]}},
"shape": {"field": "source", "type": "nominal", "legend": null, "scale": {"domain": ["RCP3PD","RCP4.5","RCP6","RCP8.5","INERIS","TNO","EMEP","GAINS","AEROCOM","MACCity","ACCMIP","HYDE","EDGAR","PNNL-2010","PNNL-2004"], "range": ["triangle-up","diamond","square","circle","triangle-up","M0,-1L0.235,-0.324L0.951,-0.309L0.38,0.124L0.588,0.809L0,0.4L-0.588,0.809L-0.38,0.124L-0.951,-0.309L-0.235,-0.324Z","circle","square","triangle-up","circle","circle","M-1,0L1,0M0,-1L0,1M-0.7,-0.7L0.7,0.7M-0.7,0.7L0.7,-0.7","circle","circle","circle"]}}
}
},
{
"transform": [{"filter": "datum.source === 'ACCMIP'"}],
"mark": {"type": "point", "filled": true, "shape": "circle", "size": 85, "opacity": 1},
"encoding": {
"x": {"field": "year", "type": "quantitative", "scale": {"domain": [1978, 2012], "nice": false, "zero": false}, "axis": {"orient": "top", "values": [1978,1982,1984,1986,1988,1992,1994,1996,1998,2002,2004,2006,2008,2012], "labels": false, "tickSize": -4.5, "title": null, "domainWidth": 1.3}},
"y": {"field": "value", "type": "quantitative", "scale": {"domain": [0, 20], "nice": false}, "axis": {"orient": "right", "values": [1,2,4,5,7,8,10,11,13,14,16,17,19,20], "labels": false, "tickSize": -4.5, "title": null, "domainWidth": 1.3}},
"color": {"field": "source", "type": "nominal", "scale": {"domain": ["PNNL-2004","PNNL-2010","EDGAR","HYDE","ACCMIP","MACCity","AEROCOM","GAINS","EMEP","TNO","INERIS","RCP8.5","RCP6","RCP4.5","RCP3PD"], "range": ["#3cbcf0","#22aaee","#c6e23a","#c6e23a","#ff0000","#ff2626","#3cb43c","#3cb43c","#e8952f","#ff9922","#ff9922","#b02a6e","#b02a6e","#b02a6e","#b02a6e"]}}
}
}
]
}
],
"spacing": 71.5,
"bounds": "flush",
"resolve": {"scale": {"color": "independent", "shape": "independent", "strokeDash": "independent", "strokeWidth": "independent", "x": "independent", "y": "independent"}},
"config": {
"view": {"stroke": null},
"font": "Liberation Sans",
"axis": {"labelFont": "Liberation Sans", "labelFontSize": 11, "labelFontWeight": "bold", "labelColor": "#000", "titleFont": "Liberation Sans", "titleFontSize": 15, "titleFontWeight": "bold", "titleColor": "#000", "domainColor": "#000", "tickColor": "#000", "grid": false, "labelFlush": false},
"legend": {"labelFont": "Liberation Sans", "labelFontSize": 10.5, "labelFontWeight": "bold", "labelColor": "#000", "padding": 0, "symbolStrokeWidth": 1.4},
"title": {"font": "Liberation Sans", "fontSize": 15, "fontWeight": "bold", "color": "#000"}
}
}
